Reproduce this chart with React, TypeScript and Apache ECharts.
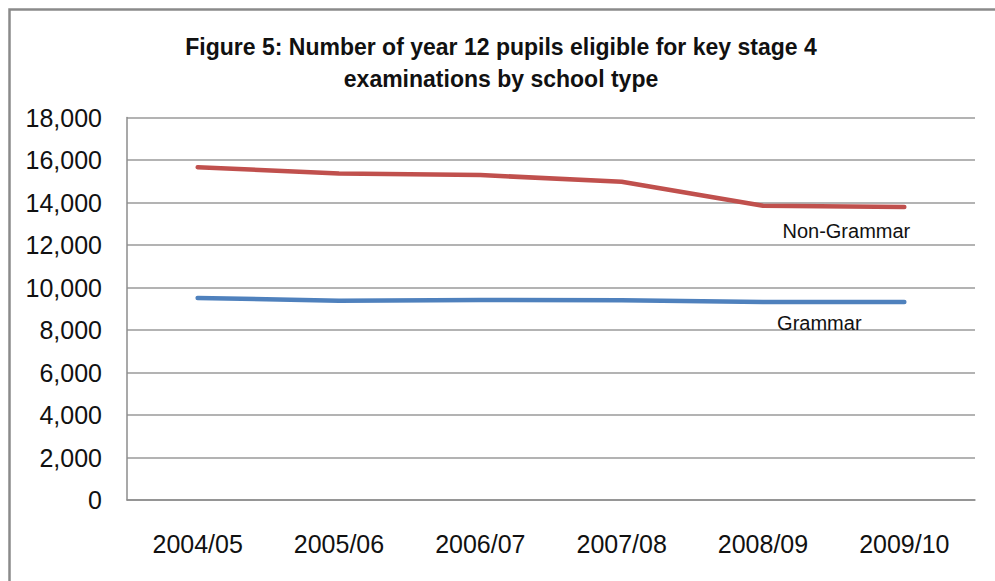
import React, { useEffect, useRef } from "react";
import * as echarts from "echarts";

const categories = ["2004/05", "2005/06", "2006/07", "2007/08", "2008/09", "2009/10"];
const nonGrammar = [15660, 15370, 15290, 14980, 13850, 13790];
const grammar = [9510, 9380, 9410, 9400, 9320, 9320];
const yTicks = { min: 0, max: 18000, interval: 2000 };
const titleLines = [
  "Figure 5: Number of year 12 pupils eligible for key stage 4",
  "examinations by school type",
];

const FONT = "'Liberation Sans', Arial, sans-serif";

function lastLabel(values: number[], text: string, offset: number[]) {
  return values.map((v, i) =>
    i === values.length - 1
      ? {
          value: v,
          label: {
            show: true,
            position: "inside",
            offset,
            formatter: text,
            color: "#111",
            fontSize: 20,
            fontFamily: FONT,
          },
        }
      : v
  );
}

export default function App() {
  const ref = useRef<HTMLDivElement>(null);
  useEffect(() => {
    document.body.style.margin = "0";
    const chart = echarts.init(ref.current!, null, { renderer: "svg" });
    chart.setOption({
      animation: false,
      backgroundColor: "#ffffff",
      title: {
        text: titleLines.join("\n"),
        left: 501,
        top: 31,
        padding: 0,
        textAlign: "center",
        textStyle: {
          fontFamily: FONT,
          fontWeight: "bold",
          fontSize: 23,
          lineHeight: 32,
          color: "#111",
        },
      },
      graphic: [
        {
          type: "rect",
          shape: { x: 9.5, y: 9.5, width: 1000, height: 600 },
          style: { fill: "none", stroke: "#8a8a8a", lineWidth: 2.5 },
          silent: true,
        },
      ],
      grid: { left: 127, right: 20, top: 117.5, bottom: 81, containLabel: false },
      xAxis: {
        type: "category",
        data: categories,
        boundaryGap: true,
        axisLine: { show: true, lineStyle: { color: "#8c8c8c", width: 1.5 } },
        axisTick: { show: false },
        axisLabel: {
          margin: 31,
          fontSize: 25,
          fontFamily: FONT,
          color: "#111",
        },
      },
      yAxis: {
        type: "value",
        min: yTicks.min,
        max: yTicks.max,
        interval: yTicks.interval,
        axisLine: { show: true, lineStyle: { color: "#8c8c8c", width: 1.5 } },
        axisTick: { show: false },
        splitLine: { show: true, lineStyle: { color: "#9a9a9a", width: 1.5 } },
        axisLabel: {
          margin: 25,
          fontSize: 25,
          fontFamily: FONT,
          color: "#111",
          formatter: (v: number) => v.toLocaleString("en-US"),
        },
      },
      series: [
        {
          name: "Non-Grammar",
          type: "line",
          data: lastLabel(nonGrammar, "Non-Grammar", [-58, 24]),
          symbol: "circle",
          symbolSize: 1,
          showSymbol: true,
          itemStyle: { color: "rgba(0,0,0,0)" },
          lineStyle: { color: "#C0504D", width: 4.5, cap: "round", join: "round" },
        },
        {
          name: "Grammar",
          type: "line",
          data: lastLabel(grammar, "Grammar", [-85, 21]),
          symbol: "circle",
          symbolSize: 1,
          showSymbol: true,
          itemStyle: { color: "rgba(0,0,0,0)" },
          lineStyle: { color: "#4F81BD", width: 4.5, cap: "round", join: "round" },
        },
      ],
    });
    return () => chart.dispose();
  }, []);
  return <div ref={ref} style={{ width: 995, height: 581 }} />;
}
